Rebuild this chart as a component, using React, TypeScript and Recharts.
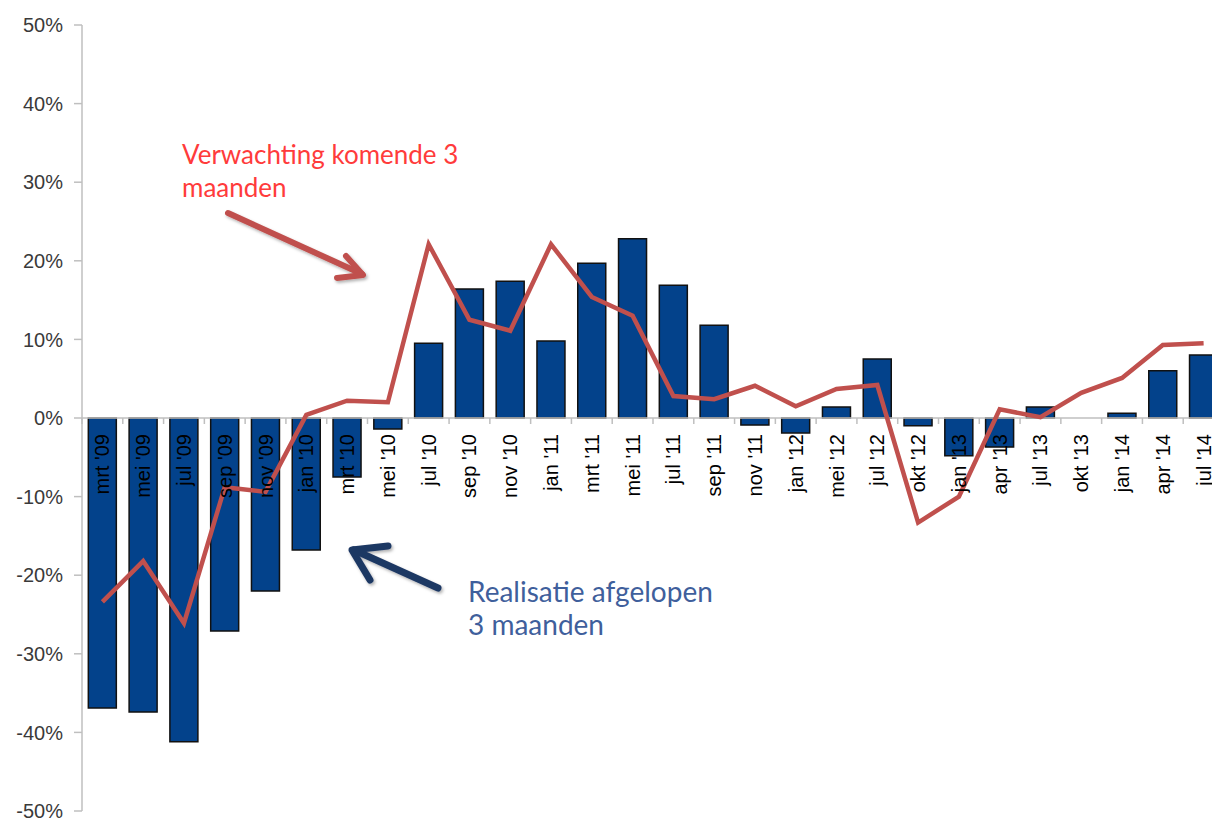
import React from "react";
import {
  ComposedChart,
  Bar,
  Line,
  XAxis,
  YAxis,
  ReferenceLine,
} from "recharts";

const categories = [
  "mrt '09", "mei '09", "jul '09", "sep '09", "nov '09", "jan '10", "mrt '10",
  "mei '10", "jul '10", "sep '10", "nov '10", "jan '11", "mrt '11", "mei '11",
  "jul '11", "sep '11", "nov '11", "jan '12", "mei '12", "jul '12", "okt '12",
  "jan '13", "apr '13", "jul '13", "okt '13", "jan '14", "apr '14", "jul '14",
];

// Realisatie afgelopen 3 maanden (%)
const realisatie = [
  -36.9, -37.4, -41.2, -27.1, -22.0, -16.8, -7.5, -1.4, 9.5, 16.4, 17.4, 9.8,
  19.7, 22.8, 16.9, 11.8, -0.9, -1.9, 1.4, 7.5, -1.0, -4.8, -3.7, 1.4, 0, 0.6,
  6.0, 8.0,
];

// Verwachting komende 3 maanden (%)
const verwachting = [
  -23.4, -18.2, -26.1, -8.8, -9.4, 0.4, 2.2, 2.0, 22.1, 12.5, 11.1, 22.1, 15.4,
  13.0, 2.8, 2.4, 4.1, 1.5, 3.7, 4.2, -13.3, -10.0, 1.1, 0.1, 3.2, 5.1, 9.3, 9.5,
];

const yTicks = [-50, -40, -30, -20, -10, 0, 10, 20, 30, 40, 50];

const data = categories.map((cat, i) => ({
  cat,
  realisatie: realisatie[i],
  verwachting: verwachting[i],
}));

const CHART_W = 1232;
const CHART_H = 821;
const MARGIN = { top: 25, right: 8, bottom: 0, left: 0 };
const X_AXIS_H = 10;
const Y_AXIS_W = 82;
const PLOT_H = CHART_H - MARGIN.top - MARGIN.bottom - X_AXIS_H;
const PLOT_W = CHART_W - MARGIN.left - MARGIN.right - Y_AXIS_W;
const ZERO_Y = MARGIN.top + PLOT_H / 2;
const BAND = PLOT_W / categories.length;

const CatTick = (props: any) => {
  const { x, payload } = props;
  const bx = x - BAND / 2;
  return (
    <g>
      <line x1={bx} x2={bx} y1={ZERO_Y} y2={ZERO_Y + 6} stroke="#bfbfbf" strokeWidth={1.5} />
      <text
        transform={`translate(${x},${ZERO_Y + 16}) rotate(-90)`}
        textAnchor="end"
        dy="0.35em"
        fontFamily="'Liberation Sans', Arial, sans-serif"
        fontSize={20}
        fill="#000"
      >
        {payload.value}
      </text>
    </g>
  );
};

export default function App() {
  return (
    <div
      style={{
        position: "fixed",
        left: 0,
        top: 0,
        width: 1212,
        height: 821,
        overflow: "hidden",
        background: "#fff",
      }}
    >
      <ComposedChart
        width={CHART_W}
        height={CHART_H}
        data={data}
        margin={MARGIN}
        barCategoryGap="15.5%"
      >
        <ReferenceLine y={0} stroke="#bfbfbf" strokeWidth={1.5} />
        <YAxis
          width={Y_AXIS_W}
          domain={[-50, 50]}
          ticks={yTicks}
          interval={0}
          allowDataOverflow
          axisLine={{ stroke: "#bfbfbf", strokeWidth: 1.5 }}
          tickLine={{ stroke: "#bfbfbf", strokeWidth: 1.5 }}
          tickSize={8}
          tickMargin={11}
          tickFormatter={(v: number) => `${v}%`}
          tick={{
            fontFamily: "'Liberation Sans', Arial, sans-serif",
            fontSize: 20,
            fill: "#3a3a3a",
          }}
        />
        <Bar
          dataKey="realisatie"
          fill="#03428b"
          stroke="#111"
          strokeWidth={1.5}
          isAnimationActive={false}
        />
        <XAxis
          dataKey="cat"
          interval={0}
          height={X_AXIS_H}
          axisLine={false}
          tickLine={false}
          tick={<CatTick />}
        />
        <Line
          dataKey="verwachting"
          type="linear"
          stroke="#c0504d"
          strokeWidth={4.5}
          dot={false}
          activeDot={false}
          isAnimationActive={false}
        />
      </ComposedChart>
      <svg
        width={1212}
        height={821}
        style={{ position: "absolute", left: 0, top: 0, pointerEvents: "none" }}
      >
        <defs>
          <filter id="sh" x="-20%" y="-20%" width="140%" height="140%">
            <feDropShadow dx="1.5" dy="2" stdDeviation="1.5" floodColor="#000" floodOpacity="0.3" />
          </filter>
        </defs>
        <g fill="none" strokeLinecap="round" strokeLinejoin="round" filter="url(#sh)">
          <path d="M228 213 L362 274" stroke="#c0504d" strokeWidth={6} />
          <path d="M346 256 L363 275 L337 278" stroke="#c0504d" strokeWidth={6} />
          <path d="M438 588 L354 550" stroke="#1f3864" strokeWidth={7} />
          <path d="M388 546 L352 550 L370 580" stroke="#1f3864" strokeWidth={7} />
        </g>
        <g fontFamily="Lato, 'Open Sans', sans-serif">
          <text x={182} y={164} fill="#ff3b3b" fontSize={26}>Verwachting komende  3</text>
          <text x={182} y={197} fill="#ff3b3b" fontSize={26}>maanden</text>
          <text x={468} y={602} fill="#3f5f9c" fontSize={28}>Realisatie afgelopen</text>
          <text x={468} y={635} fill="#3f5f9c" fontSize={28}>3 maanden</text>
        </g>
      </svg>
    </div>
  );
}
